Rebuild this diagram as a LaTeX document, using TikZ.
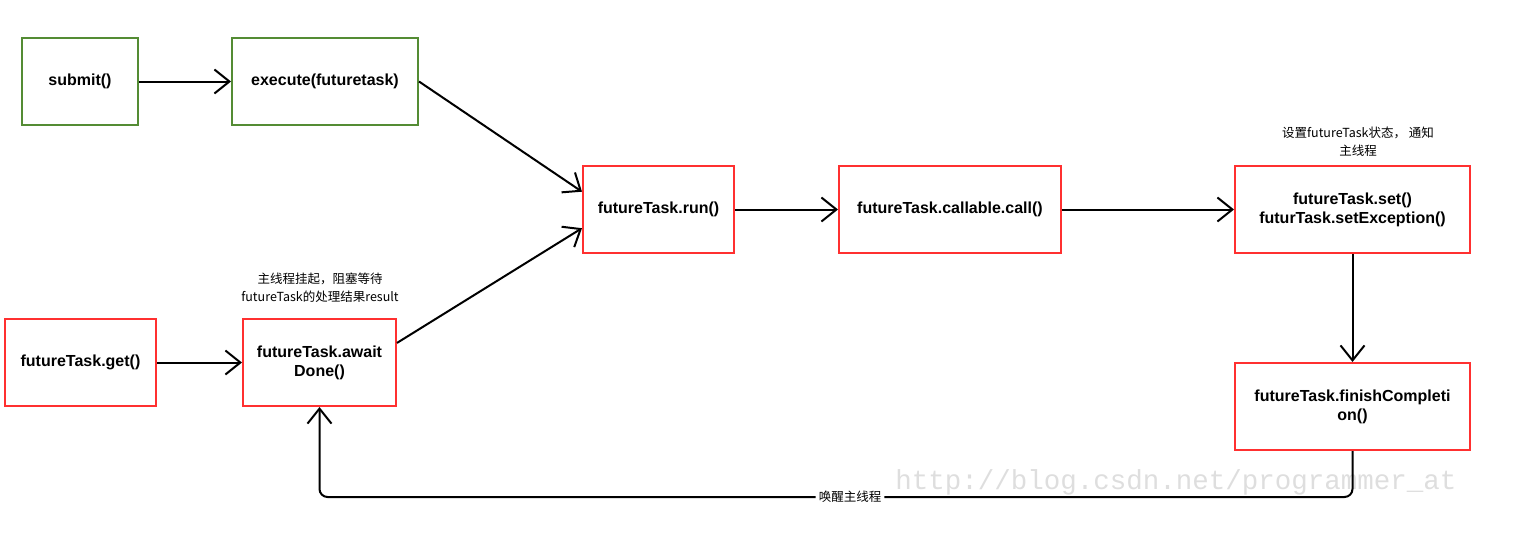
\documentclass[tikz,border=0pt]{standalone}
\usepackage{fontspec}
\setmainfont{Liberation Sans}
\newfontfamily\cjk{Noto Sans CJK SC}
\newfontfamily\wmfont{Liberation Mono}
\usepackage{tikz}
\usetikzlibrary{arrows.meta,calc,positioning}
\usepackage{xcolor}
\definecolor{boxgreen}{RGB}{84,140,52}
\definecolor{boxred}{RGB}{255,48,48}

\begin{document}
\begin{tikzpicture}[x=1pt,y=-1pt, align=center,
            box/.style={rectangle,draw,line width=2pt,minimum height=87pt,inner sep=2pt,font=\bfseries\fontsize{16}{19}\selectfont},
            greenbox/.style={box,draw=boxgreen},
            redbox/.style={box,draw=boxred},
            note/.style={font=\cjk\fontsize{12.5}{18}\selectfont},
            link/.style={line width=2pt,-{Straight Barb[length=15pt,width=24pt]}}]

            \useasboundingbox (0,0) rectangle (1520,538);

            % watermark
            \node[font=\wmfont\fontsize{27.5}{28}\selectfont, text=black!13] (mark) at (1176,482) {http://blog.csdn.net/programmer\_at};

            % submit side
            \node[greenbox, minimum width=116pt] (submit) at (80,81.5) {submit()};
            \node[greenbox, minimum width=186pt] (execute) at (325,81.5) {execute(futuretask)};

            % worker side
            \node[redbox, minimum width=151pt] (run) at (658.5,209.5) {futureTask.run()};
            \node[redbox, minimum width=222pt] (call) at (950,209.5) {futureTask.callable.call()};
            \node[redbox, minimum width=235pt] (set) at (1352.5,209.5) {futureTask.set()\\futurTask.setException()};
            \node[redbox, minimum width=235pt] (finish) at (1352.5,406.5) {futureTask.finishCompleti\\on()};

            % get side
            \node[redbox, minimum width=151pt] (get) at (80.5,362.5) {futureTask.get()};
            \node[redbox, minimum width=153pt] (await) at (319.5,362.5) {futureTask.await\\Done()};

            % notes
            \node[note] (setnote) at (1358,142) {设置futureTask状态， 通知\\主线程};
            \node[note] (awaitnote) at (320,288) {主线程挂起，阻塞等待\\futureTask的处理结果result};
            \node[note, fill=white, inner sep=3pt] (wake) at (850,497) {唤醒主线程};

            \draw[link] (submit) -- (execute);
            \draw[link] (execute.east) -- ($(run.north west)!0.3!(run.south west)$);
            \draw[link] (get) -- (await);
            \draw[link] ($(await.north east)!0.28!(await.south east)$) -- ($(run.north west)!0.71!(run.south west)$);
            \draw[link] (run) -- (call);
            \draw[link] (call) -- (set);
            \draw[link] (set) -- (finish);
            \draw[line width=2pt, rounded corners=8pt] (finish.south) |- (wake.east);
            \draw[link, rounded corners=8pt] (wake.west) -| (await.south);
         \end{tikzpicture}
\end{document}
